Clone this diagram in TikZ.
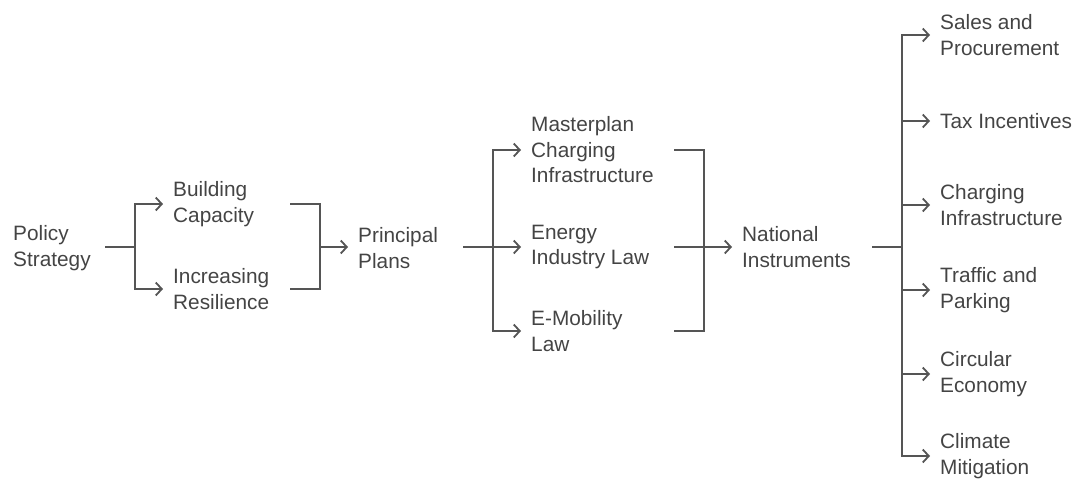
\documentclass[tikz,border=0pt]{standalone}
\usepackage{fontspec}
\setmainfont{Liberation Sans}
\usetikzlibrary{arrows.meta}
\definecolor{linegray}{HTML}{555555}
\definecolor{textgray}{HTML}{444444}

\begin{document}
\begin{tikzpicture}[x=1pt,y=-1pt,
  lbl/.style={anchor=west, inner xsep=10pt, inner ysep=0pt, align=left, text=textgray, font=\fontsize{20.8}{25.5}\selectfont},
  link/.style={draw=linegray, line width=1.8pt},
  arr/.style={link, -{Straight Barb[length=6pt,width=13pt,line width=1.8pt]}}]
\useasboundingbox (0,0) rectangle (1074,479);

\node[lbl] (PS) at (3,248) {Policy\\Strategy};
\node[lbl] (BC) at (163,204) {Building\\Capacity};
\node[lbl] (IR) at (163,289) {Increasing\\Resilience};
\node[lbl] (PP) at (348,248) {Principal\\Plans};
\node[lbl] (MC) at (521,150) {Masterplan\\Charging\\Infrastructure};
\node[lbl] (EI) at (521,247) {Energy\\Industry Law};
\node[lbl] (EM) at (521,331) {E-Mobility\\Law};
\node[lbl] (NI) at (732,247) {National\\Instruments};
\node[lbl] (SP) at (930,35) {Sales and\\Procurement};
\node[lbl] (TI) at (930,121) {Tax Incentives};
\node[lbl] (CI) at (930,205) {Charging\\Infrastructure};
\node[lbl] (TP) at (930,290) {Traffic and\\Parking};
\node[lbl] (CE) at (930,374) {Circular\\Economy};
\node[lbl] (CM) at (930,456) {Climate\\Mitigation};

% first split
\coordinate (ps) at (105,247);
\coordinate (j1) at (135,247);
\draw[link] (ps) -- (j1);
\draw[arr] (j1) |- (BC.west);
\draw[arr] (j1) |- (IR.west);

% join into principal plans
\coordinate (bc) at (290,204);
\coordinate (ir) at (290,289);
\coordinate (j2) at (320,247);
\draw[link] (bc) -| (j2) |- (ir);
\draw[arr] (j2) -- (j2 -| PP.west);

% second split
\coordinate (pp) at (463,247);
\coordinate (j3) at (493,247);
\draw[link] (pp) -- (j3);
\draw[arr] (j3) |- (MC.west);
\draw[arr] (j3) -- (EI.west);
\draw[arr] (j3) |- (EM.west);

% join into national instruments
\coordinate (mc) at (674,150);
\coordinate (ei) at (674,247);
\coordinate (em) at (674,331);
\coordinate (j4) at (704,247);
\draw[link] (mc) -| (j4) |- (em);
\draw[link] (ei) -- (j4);
\draw[arr] (j4) -- (NI.west);

% instruments
\coordinate (ni) at (872,247);
\coordinate (j5) at (902,247);
\draw[link] (ni) -- (j5);
\draw[arr] (j5) |- (SP.west);
\draw[arr] (j5) |- (TI.west);
\draw[arr] (j5) |- (CI.west);
\draw[arr] (j5) |- (TP.west);
\draw[arr] (j5) |- (CE.west);
\draw[arr] (j5) |- (CM.west);
\end{tikzpicture}
\end{document}
